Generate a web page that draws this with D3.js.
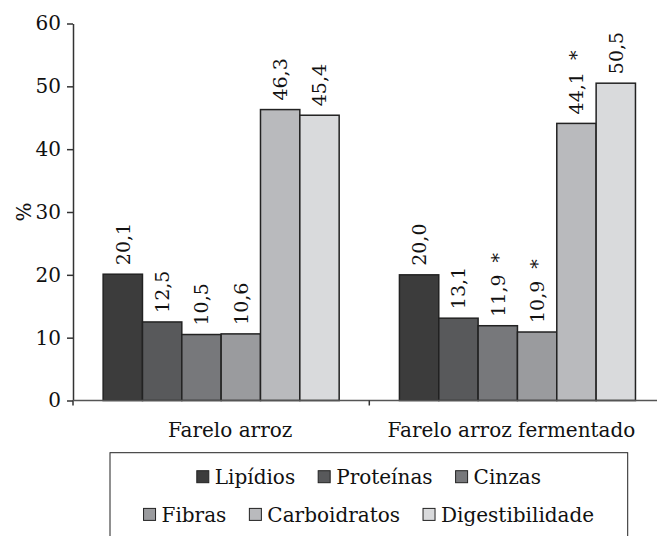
<!DOCTYPE html>
<html>
<head>
<meta charset="utf-8">
<script src="https://cdn.jsdelivr.net/npm/d3@7"></script>
<style>
  body { margin: 0; background: #fff; }
  svg { display: block; }
  text { font-family: "DejaVu Serif", serif; fill: #111; }
</style>
</head>
<body>
<svg id="chart" width="657" height="536"></svg>
<script>
// data
var groups = ["Farelo arroz", "Farelo arroz fermentado"];
var series = ["Lipídios", "Proteínas", "Cinzas", "Fibras", "Carboidratos", "Digestibilidade"];
var valuesArroz = [20.1, 12.5, 10.5, 10.6, 46.3, 45.4];
var valuesFermentado = [20.0, 13.1, 11.9, 10.9, 44.1, 50.5];
var marksArroz = ["", "", "", "", "", ""];
var marksFermentado = ["", "", "*", "*", "*", ""];
var yTicks = [0, 10, 20, 30, 40, 50, 60];
var colors = ["#3c3c3c", "#58595b", "#77787b", "#9a9b9e", "#b9babd", "#d9dadc"];

var rows = [];
groups.forEach(function (g, gi) {
    var vals = gi === 0 ? valuesArroz : valuesFermentado;
    var marks = gi === 0 ? marksArroz : marksFermentado;
    series.forEach(function (s, si) {
        rows.push({ group: g, key: s, value: vals[si], mark: marks[si], idx: si });
    });
});

var svg = d3.select("#chart");
var fontSize = "20px";

var x0 = d3.scaleBand()
    .domain(groups)
    .range([73, 665.6])
    .paddingInner(0)
    .paddingOuter(0);

var x1 = d3.scaleBand()
    .domain(series)
    .range([0, x0.bandwidth()])
    .paddingInner(0)
    .paddingOuter(0.766);

var y = d3.scaleLinear()
    .domain([0, 60])
    .range([400.5, 23.5]);

// y axis
var yAxis = svg.append("g")
    .attr("transform", "translate(73,0)")
    .call(d3.axisLeft(y).tickValues(yTicks).tickSize(6).tickPadding(6).tickSizeOuter(0));
yAxis.select(".domain").attr("stroke", "#333").attr("stroke-width", 1.5);
yAxis.selectAll(".tick line").attr("stroke", "#333").attr("stroke-width", 1.5);
yAxis.selectAll(".tick text")
    .attr("font-family", "DejaVu Serif, serif")
    .attr("font-size", fontSize)
    .attr("fill", "#111");

// y axis runs a little below the x axis
svg.append("line")
    .attr("x1", 73).attr("x2", 73)
    .attr("y1", y(0)).attr("y2", y(0) + 5)
    .attr("stroke", "#333").attr("stroke-width", 1.5);

// y title
svg.append("text")
    .attr("transform", "translate(31," + y(30) + ") rotate(-90)")
    .attr("text-anchor", "middle")
    .attr("font-size", fontSize)
    .text("%");

// bars
svg.append("g")
    .selectAll("rect")
    .data(rows)
    .join("rect")
    .attr("x", d => x0(d.group) + x1(d.key))
    .attr("y", d => y(d.value))
    .attr("width", x1.bandwidth())
    .attr("height", d => y(0) - y(d.value))
    .attr("fill", d => colors[d.idx])
    .attr("stroke", "#222")
    .attr("stroke-width", 1.5);

// value labels
var labels = svg.append("g")
    .selectAll("text")
    .data(rows)
    .join("text")
    .attr("transform", d => "translate(" + (x0(d.group) + x1(d.key) + x1.bandwidth() / 2 + 7) + "," + (y(d.value) - 9) + ") rotate(-90)")
    .attr("text-anchor", "start")
    .attr("font-size", "19px");
labels.append("tspan")
    .text(d => d.value.toFixed(1).replace(".", ","));
labels.filter(d => d.mark !== "")
    .append("tspan")
    .attr("dx", 12)
    .text(d => d.mark);

// x axis
var xAxis = svg.append("g")
    .attr("transform", "translate(0," + y(0) + ")");
xAxis.append("line")
    .attr("x1", 73).attr("x2", 665.6)
    .attr("stroke", "#555").attr("stroke-width", 1.7);
xAxis.selectAll(".sep")
    .data(groups.slice(1))
    .join("line")
    .attr("class", "sep")
    .attr("x1", d => x0(d)).attr("x2", d => x0(d))
    .attr("y1", 0).attr("y2", 5)
    .attr("stroke", "#333").attr("stroke-width", 1.5);

var labelShift = [9, -6];
svg.append("g")
    .selectAll("text")
    .data(groups)
    .join("text")
    .attr("x", (d, i) => x0(d) + x0.bandwidth() / 2 + labelShift[i])
    .attr("y", 436.7)
    .attr("text-anchor", "middle")
    .attr("font-size", fontSize)
    .text(d => d);

// legend
var box = { left: 110, top: 452.7, right: 627.7 };
svg.append("rect")
    .attr("x", box.left)
    .attr("y", box.top)
    .attr("width", box.right - box.left)
    .attr("height", 120)
    .attr("fill", "none")
    .attr("stroke", "#222")
    .attr("stroke-width", 1);

var legendRows = [series.slice(0, 3), series.slice(3)];
var rowBaselines = [484, 521.7];
var sq = 12, sqGap = 6, itemGap = 23;
var centerX = (box.left + box.right) / 2;

legendRows.forEach(function (items, ri) {
    var g = svg.append("g");
    var offset = 0;
    items.forEach(function (name) {
        var idx = series.indexOf(name);
        g.append("rect")
            .attr("x", offset)
            .attr("y", rowBaselines[ri] - 13.3)
            .attr("width", sq)
            .attr("height", sq)
            .attr("fill", colors[idx])
            .attr("stroke", "#222")
            .attr("stroke-width", 1);
        var t = g.append("text")
            .attr("x", offset + sq + sqGap)
            .attr("y", rowBaselines[ri])
            .attr("font-size", fontSize)
            .text(name);
        offset += sq + sqGap + t.node().getComputedTextLength() + itemGap;
    });
    var total = offset - itemGap;
    g.attr("transform", "translate(" + (centerX - total / 2) + ",0)");
});
</script>
</body>
</html>
